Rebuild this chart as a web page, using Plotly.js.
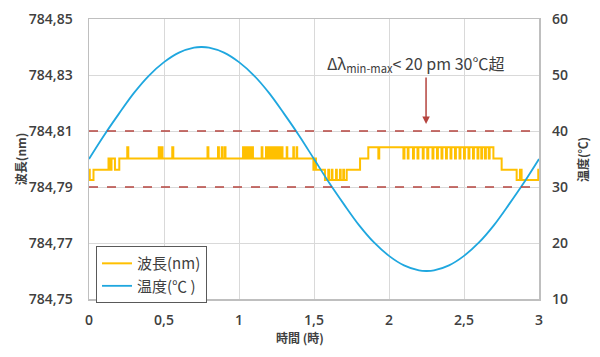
<!DOCTYPE html>
<html>
<head>
<meta charset="utf-8">
<script src="https://cdn.plot.ly/plotly-3.0.1.min.js"></script>
<style>html,body{margin:0;padding:0;background:#fff}#chart{width:600px;height:357px}</style>
</head>
<body>
<div id="chart"></div>
<script>
// Temperature (°C)
const tempTime = [0,0.1,0.2,0.3,0.4,0.5,0.6,0.7,0.75,0.8,0.9,1.0,1.1,1.2,1.3,1.4,1.5,1.6,1.7,1.8,1.9,2.0,2.1,2.2,2.25,2.3,2.4,2.5,2.6,2.7,2.8,2.9,3.0];
const tempValues = [35,39.2,43.1,46.8,49.9,52.3,54.0,54.9,55.0,54.9,54.0,52.3,49.9,46.8,43.1,39.2,35,30.8,26.9,23.2,20.1,17.7,16.0,15.1,15.0,15.1,16.0,17.7,20.1,23.2,26.9,30.8,35];

// Wavelength (nm) step levels (change points)
const waveTime = [0,0.005,0.03,0.13,0.14,0.15,0.173,0.202,0.255,0.262,0.465,0.47,0.478,0.49,0.555,0.562,0.79,0.796,0.86,0.866,0.885,0.89,0.905,0.91,
1.027,1.035,1.04,1.05,1.055,1.065,1.07,1.08,1.085,1.093,1.151,1.156,1.18,1.19,1.195,1.205,1.21,1.22,1.225,1.235,1.24,1.25,1.255,1.262,1.27,1.275,1.285,1.29,1.318,1.322,1.362,1.366,1.384,1.388,
1.496,1.50,1.505,1.51,1.513,1.573,1.595,1.60,1.618,1.623,1.647,1.652,1.673,1.678,1.695,1.70,1.718,1.807,1.862,1.929,1.935,
2.096,2.103,2.125,2.13,2.16,2.166,2.19,2.196,2.225,2.231,2.255,2.262,2.29,2.296,2.32,2.326,2.35,2.356,2.38,2.386,2.41,2.416,2.44,2.446,2.47,2.476,2.5,2.506,2.53,2.536,2.56,2.566,2.59,2.596,2.615,2.621,2.64,2.646,2.665,2.671,2.696,2.751,2.851,2.873,2.884,2.995,3.0];
const waveValues = [784.7962,784.7925,784.7962,784.8002,784.7962,784.8002,784.7962,784.8002,784.8042,784.8002,784.8042,784.8002,784.8042,784.8002,784.8042,784.8002,784.8042,784.8002,784.8042,784.8002,784.8042,784.8002,784.8042,784.8002,
784.8042,784.8002,784.8042,784.8002,784.8042,784.8002,784.8042,784.8002,784.8042,784.8002,784.8042,784.8002,784.8042,784.8002,784.8042,784.8002,784.8042,784.8002,784.8042,784.8002,784.8042,784.8002,784.8042,784.8002,784.8042,784.8002,784.8042,784.8002,784.8042,784.8002,784.8042,784.8002,784.8042,784.8002,
784.7962,784.8002,784.7962,784.8002,784.7962,784.7925,784.7962,784.7925,784.7962,784.7925,784.7962,784.7925,784.7962,784.7925,784.7962,784.7925,784.7962,784.8002,784.8042,784.8002,784.8042,
784.8002,784.8042,784.8002,784.8042,784.8002,784.8042,784.8002,784.8042,784.8002,784.8042,784.8002,784.8042,784.8002,784.8042,784.8002,784.8042,784.8002,784.8042,784.8002,784.8042,784.8002,784.8042,784.8002,784.8042,784.8002,784.8042,784.8002,784.8042,784.8002,784.8042,784.8002,784.8042,784.8002,784.8042,784.8002,784.8042,784.8002,784.8042,784.8002,784.8042,784.8002,784.7962,784.7925,784.7962,784.7925,784.7962,784.7962];

const thresholds = [784.79, 784.81];
const xTicks = [0,0.5,1,1.5,2,2.5,3];
const yTicks = [784.75,784.77,784.79,784.81,784.83,784.85];
const y2Ticks = [10,20,30,40,50,60];
const arrowTarget = {x: 2.247, y: 784.8125};

const tickFont = {family: 'Open Sans, sans-serif', size: 14, color: '#404040', weight: 600};
const cjk = 'Noto Sans CJK JP, sans-serif';

const traces = [
  {x: waveTime, y: waveValues, name: '波長(nm)', mode: 'lines', line: {color: '#ffc000', width: 2, shape: 'hv'}, yaxis: 'y'},
  {x: tempTime, y: tempValues, name: '温度(℃ )', mode: 'lines', line: {color: '#1fa7df', width: 1.8, shape: 'spline'}, yaxis: 'y2'}
];

const shapes = thresholds.map(v => ({type: 'line', xref: 'paper', x0: 0, x1: 1, yref: 'y', y0: v, y1: v,
  line: {color: '#b5443f', width: 1.5, dash: 'dash'}}));

const layout = {
  width: 600, height: 357,
  margin: {l: 89, r: 61, t: 19, b: 58},
  separators: ',.',
  paper_bgcolor: '#fff', plot_bgcolor: '#fff',
  showlegend: true,
  legend: {x: 0.0156, y: 0.189, xanchor: 'left', yanchor: 'top', bordercolor: '#595959', borderwidth: 1,
    bgcolor: '#fff', font: {family: cjk, size: 15, color: '#404040'}, tracegroupgap: 0, itemwidth: 30,
    entrywidth: 100, entrywidthmode: 'pixels'},
  xaxis: {range: [0, 3], tickvals: xTicks, showgrid: true, gridcolor: '#d9d9d9', gridwidth: 1,
    showline: true, mirror: true, linecolor: '#bfbfbf', linewidth: 1.5, zeroline: false, ticks: '',
    tickfont: tickFont, ticklabelstandoff: 8},
  yaxis: {range: [784.75, 784.85], tickvals: yTicks, tickformat: '.2f', showgrid: true, gridcolor: '#d9d9d9',
    showline: true, mirror: true, linecolor: '#bfbfbf', linewidth: 1.5, zeroline: false, ticks: '',
    tickfont: tickFont, ticklabelstandoff: 12},
  yaxis2: {range: [10, 60], tickvals: y2Ticks, overlaying: 'y', side: 'right', showgrid: false, zeroline: false,
    showline: false, ticks: '', tickfont: tickFont, ticklabelstandoff: 12},
  shapes: shapes,
  annotations: [
    {xref: 'paper', yref: 'paper', x: 0.469, y: -0.136, xanchor: 'center', yanchor: 'middle', showarrow: false,
      text: '時間 (時)', font: {family: cjk, size: 12, color: '#404040', weight: 600}},
    {xref: 'paper', yref: 'paper', x: -0.153, y: 0.5, xanchor: 'center', yanchor: 'middle', textangle: -90, showarrow: false,
      text: '波長(nm)', font: {family: cjk, size: 12, color: '#404040', weight: 600}},
    {xref: 'paper', yref: 'paper', x: 1.0955, y: 0.5, xanchor: 'center', yanchor: 'middle', textangle: -90, showarrow: false,
      text: '温度(℃)', font: {family: cjk, size: 12, color: '#404040', weight: 600}},
    {xref: 'x', yref: 'y', x: arrowTarget.x, y: arrowTarget.y, ax: 0, ay: -48, showarrow: true,
      arrowcolor: '#b5443f', arrowwidth: 1.5, arrowhead: 2, arrowsize: 1, text: ''},
    {xref: 'paper', yref: 'paper', x: 0.725, y: 0.84, xanchor: 'center', yanchor: 'middle', showarrow: false,
      text: 'Δλ<sub>min-max</sub>< 20 pm 30℃超', font: {family: cjk, size: 16, color: '#404040'}}
  ]
};

Plotly.newPlot('chart', traces, layout, {staticPlot: true, displayModeBar: false});
</script>
</body>
</html>
